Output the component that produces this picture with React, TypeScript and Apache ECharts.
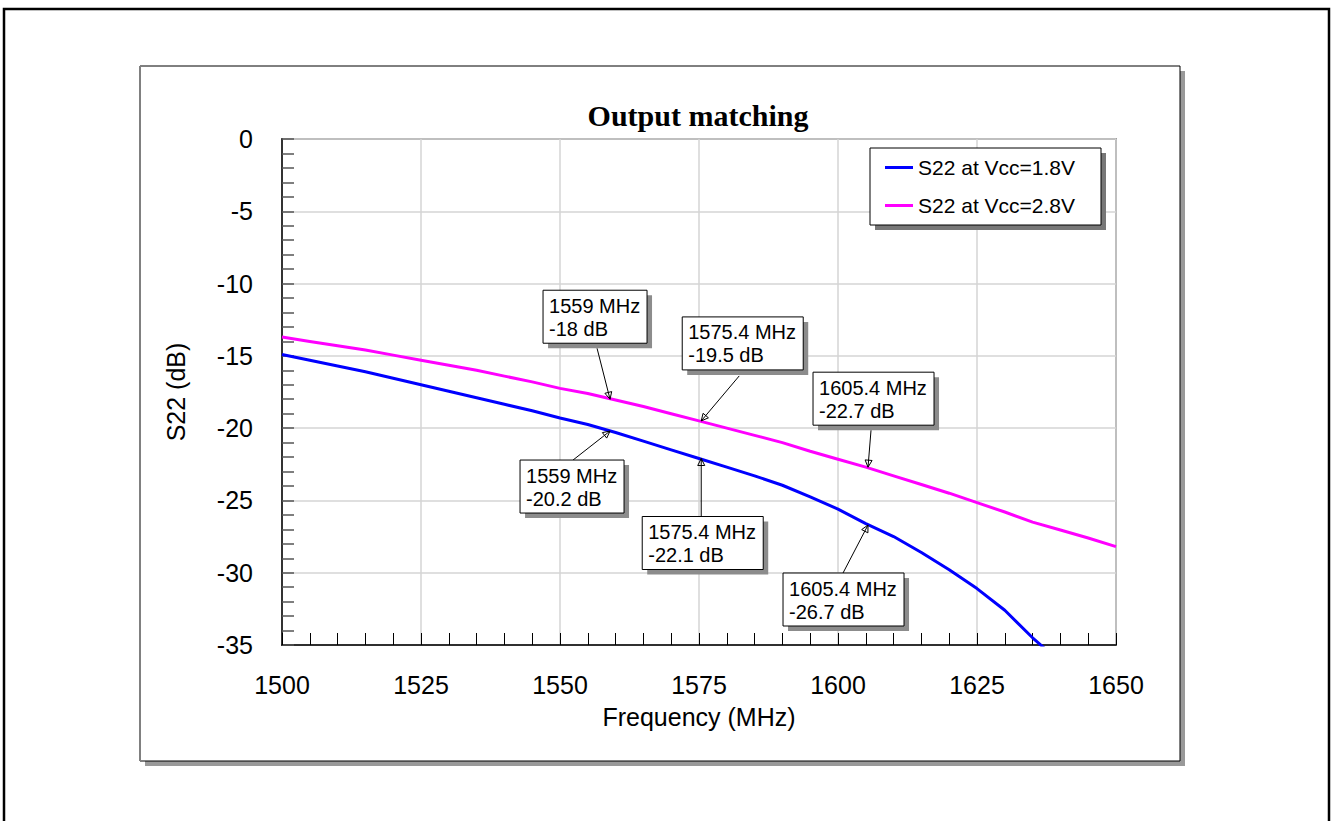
import React, { useEffect, useRef } from 'react';
import * as echarts from 'echarts';

// Frequency grid (MHz)
const freqs = [
  1500, 1505, 1510, 1515, 1520, 1525, 1530, 1535, 1540, 1545,
  1550, 1555, 1560, 1565, 1570, 1575, 1580, 1585, 1590, 1595,
  1600, 1605, 1610, 1615, 1620, 1625, 1630, 1635, 1640, 1645, 1650,
];
// S22 at Vcc = 1.8 V (dB)
const s22At18 = [
  -14.9, -15.3, -15.7, -16.1, -16.55, -17.0, -17.45, -17.9, -18.35, -18.8,
  -19.3, -19.75, -20.3, -20.9, -21.5, -22.1, -22.7, -23.3, -23.95, -24.75,
  -25.6, -26.6, -27.5, -28.6, -29.8, -31.1, -32.6, -34.5, -36.2,
];
// S22 at Vcc = 2.8 V (dB)
const s22At28 = [
  -13.7, -14.0, -14.3, -14.6, -14.95, -15.3, -15.65, -16.0, -16.4, -16.8,
  -17.25, -17.6, -18.05, -18.5, -19.0, -19.5, -20.0, -20.5, -21.0, -21.6,
  -22.15, -22.7, -23.3, -23.9, -24.5, -25.15, -25.8, -26.5, -27.05, -27.6, -28.2,
];
// Marker readouts
const markerFreqs = [1559, 1575.4, 1605.4];
const markerAt28 = [-18, -19.5, -22.7];
const markerAt18 = [-20.2, -22.1, -26.7];

const seriesNames = ['S22 at Vcc=1.8V', 'S22 at Vcc=2.8V'];
const seriesColors = ['#0000ff', '#ff00ff'];

// Callout layout (pixels relative to the marked point):
// [box dx, box dy, box width, leader start dx, leader start dy]
const calloutLayout = [
  [-67, -109, 104, -13, -51],
  [-19, -104, 121, 38, -45],
  [-55, -95, 121, 3, -37],
  [-90, 29, 104, -37, 29],
  [-59, 58, 121, 0, 58],
  [-85, 48, 121, -25, 48],
];

const SANS = '"Liberation Sans", Arial, Helvetica, sans-serif';
const SERIF = '"Liberation Serif", "Times New Roman", serif';

export default function App() {
  const ref = useRef<HTMLDivElement>(null);

  useEffect(() => {
    if (!ref.current) return;
    const chart = echarts.init(ref.current, undefined, { renderer: 'svg' });

    const markerData = [
      ...markerFreqs.map((f, i) => [f, markerAt28[i]]),
      ...markerFreqs.map((f, i) => [f, markerAt18[i]]),
    ];

    const option: any = {
      animation: false,
      backgroundColor: '#fff',
      graphic: [
        {
          type: 'rect', z: -10,
          shape: { x: 4, y: 9, width: 1325, height: 840 },
          style: { fill: 'none', stroke: '#000', lineWidth: 2.5 },
        },
        {
          type: 'rect', z: -10,
          shape: { x: 145, y: 71, width: 1040, height: 695 },
          style: { fill: '#999' },
        },
        {
          type: 'rect', z: -9,
          shape: { x: 140, y: 66, width: 1040, height: 695 },
          style: { fill: '#fff', stroke: '#000', lineWidth: 1 },
        },
        {
          type: 'line', z: -8,
          shape: { x1: 140, y1: 66, x2: 140, y2: 761 },
          style: { stroke: '#808080', lineWidth: 2 },
        },
        {
          type: 'text', z: 5,
          x: 698, y: 115,
          style: {
            text: 'Output matching',
            font: `bold 30px ${SERIF}`,
            fill: '#000',
            align: 'center',
            verticalAlign: 'middle',
          },
        },
        {
          type: 'rect', z: 3,
          shape: { x: 875, y: 153, width: 231, height: 77 },
          style: { fill: '#777' },
        },
        {
          type: 'rect', z: 3,
          shape: { x: 870, y: 148, width: 231, height: 77 },
          style: { fill: '#fff', stroke: '#000', lineWidth: 1 },
        },
      ],
      legend: {
        data: seriesNames,
        orient: 'vertical',
        left: 885,
        top: 157,
        padding: 0,
        icon: 'rect',
        itemWidth: 28,
        itemHeight: 3,
        itemGap: 17,
        itemTextGap: 6,
        z: 4,
        textStyle: { fontSize: 21, color: '#000', fontFamily: SANS },
      },
      grid: {
        left: 282,
        right: 215,
        top: 139,
        bottom: 176,
        show: true,
        borderColor: '#555',
        borderWidth: 1.5,
        backgroundColor: 'transparent',
      },
      xAxis: {
        type: 'value',
        position: 'bottom',
        min: 1500,
        max: 1650,
        interval: 25,
        name: 'Frequency (MHz)',
        nameLocation: 'middle',
        nameGap: 59,
        nameTextStyle: { fontSize: 25, color: '#000', fontFamily: SANS },
        axisLine: { show: true, onZero: false, lineStyle: { color: '#000', width: 1.5 } },
        axisTick: { show: true, inside: true, length: 12, lineStyle: { color: '#000', width: 1 } },
        minorTick: { show: true, splitNumber: 5, length: 12, lineStyle: { color: '#000', width: 1 } },
        splitLine: { show: true, lineStyle: { color: '#d4d4d4', width: 1.5 } },
        axisLabel: {
          fontSize: 25, color: '#000', margin: 27, fontFamily: SANS,
          formatter: (v: number) => String(v),
        },
      },
      yAxis: {
        type: 'value',
        position: 'left',
        min: -35,
        max: 0,
        interval: 5,
        name: 'S22 (dB)',
        nameLocation: 'middle',
        nameGap: 94,
        nameRotate: 90,
        nameTextStyle: { fontSize: 25, color: '#000', fontFamily: SANS },
        axisLine: { show: true, onZero: false, lineStyle: { color: '#333', width: 2 } },
        axisTick: { show: true, inside: true, length: 12, lineStyle: { color: '#555', width: 1.5 } },
        minorTick: { show: true, splitNumber: 5, length: 12, lineStyle: { color: '#555', width: 1.5 } },
        splitLine: { show: true, lineStyle: { color: '#d4d4d4', width: 1.5 } },
        axisLabel: { fontSize: 25, color: '#000', margin: 29, fontFamily: SANS },
      },
      series: [
        {
          name: seriesNames[0],
          type: 'line',
          data: s22At18.map((v, i) => [freqs[i], v]),
          symbol: 'none',
          color: seriesColors[0],
          lineStyle: { color: seriesColors[0], width: 3 },
          clip: true,
          z: 2,
        },
        {
          name: seriesNames[1],
          type: 'line',
          data: s22At28.map((v, i) => [freqs[i], v]),
          symbol: 'none',
          color: seriesColors[1],
          lineStyle: { color: seriesColors[1], width: 3 },
          clip: true,
          z: 2,
        },
        {
          name: 'markers',
          type: 'custom',
          z: 6,
          data: markerData,
          renderItem: (params: any, api: any) => {
            const i = params.dataIndex;
            const p = api.coord([api.value(0), api.value(1)]);
            const [dx, dy, w, lx, ly] = calloutLayout[i];
            const h = 53;
            const bx = p[0] + dx;
            const by = p[1] + dy;
            const sx = p[0] + lx;
            const sy = p[1] + ly;
            const vx = p[0] - sx;
            const vy = p[1] - sy;
            const len = Math.hypot(vx, vy) || 1;
            const ux = vx / len;
            const uy = vy / len;
            const ah = 7;
            const aw = 3.5;
            const baseX = p[0] - ux * ah;
            const baseY = p[1] - uy * ah;
            const pts = [
              [p[0], p[1]],
              [baseX - uy * aw, baseY + ux * aw],
              [baseX + uy * aw, baseY - ux * aw],
            ];
            const label = `${api.value(0)} MHz\n${api.value(1)} dB`;
            return {
              type: 'group',
              children: [
                { type: 'line', shape: { x1: sx, y1: sy, x2: p[0], y2: p[1] }, style: { stroke: '#000', lineWidth: 1 } },
                { type: 'polygon', shape: { points: pts }, style: { fill: 'none', stroke: '#000', lineWidth: 1 } },
                { type: 'rect', shape: { x: bx + 5, y: by + 5, width: w, height: h }, style: { fill: '#8c8c8c' } },
                { type: 'rect', shape: { x: bx, y: by, width: w, height: h }, style: { fill: '#fff', stroke: '#000', lineWidth: 1 } },
                {
                  type: 'text',
                  x: bx + 6,
                  y: by + 4,
                  style: {
                    text: label,
                    fill: '#000',
                    font: `20px ${SANS}`,
                    lineHeight: 23,
                    align: 'left',
                    verticalAlign: 'top',
                  },
                },
              ],
            };
          },
        },
      ],
    };

    chart.setOption(option);
    return () => {
      chart.dispose();
    };
  }, []);

  return (
    <div
      ref={ref}
      style={{ position: 'absolute', left: 0, top: 0, width: 1331, height: 821 }}
    />
  );
}
